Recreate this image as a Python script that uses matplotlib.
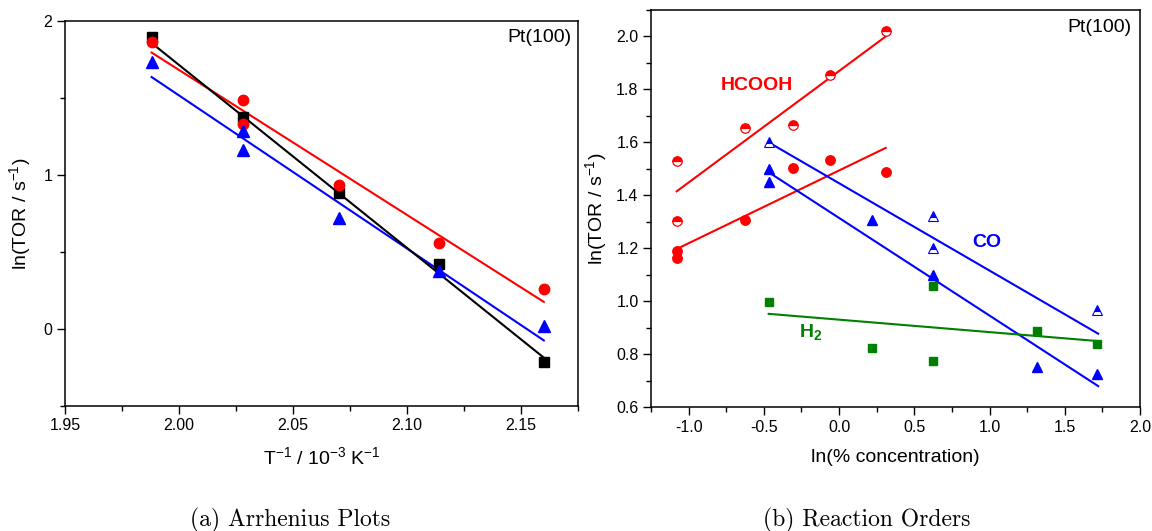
import matplotlib

matplotlib.use("Agg")
import matplotlib.pyplot as plt
from matplotlib.ticker import MultipleLocator

plt.rcParams["font.family"] = ["Liberation Sans", "DejaVu Sans"]
plt.rcParams["mathtext.fontset"] = "custom"
plt.rcParams["mathtext.rm"] = "Liberation Sans"
plt.rcParams["mathtext.it"] = "Liberation Sans:italic"
plt.rcParams["mathtext.bf"] = "Liberation Sans:bold"
plt.rcParams["axes.unicode_minus"] = False

RED = "#ff0000"
BLUE = "#0000ff"
GREEN = "#008000"

# (a) Arrhenius data: T^-1 in 10^-3 K^-1, ln(TOR)
arr_x_black = [1.988, 2.028, 2.070, 2.114, 2.160]
arr_y_black = [1.896, 1.377, 0.883, 0.420, -0.212]
arr_x_red = [1.988, 2.028, 2.028, 2.070, 2.114, 2.160]
arr_y_red = [1.862, 1.490, 1.329, 0.933, 0.559, 0.260]
arr_x_blue = [1.988, 2.028, 2.028, 2.070, 2.114, 2.160]
arr_y_blue = [1.734, 1.286, 1.160, 0.723, 0.377, 0.017]

# fitted lines (end points)
fit_x_arr = [1.988, 2.160]
fit_black = [1.857, -0.186]
fit_red = [1.795, 0.176]
fit_blue = [1.636, -0.074]

# (b) reaction orders: ln(% concentration), ln(TOR)
hcooh_x = [-1.079, -1.079, -0.626, -0.305, -0.059, 0.310]
hcooh_half_y = [1.528, 1.304, 1.653, 1.665, 1.853, 2.021]
hcooh_solid_y = [1.189, 1.162, 1.307, 1.502, 1.533, 1.487]
hcooh_fit_x = [-1.079, 0.310]
hcooh_half_fit = [1.415, 2.000]
hcooh_solid_fit = [1.197, 1.579]

co_open_x = [-0.468, 0.626, 0.626, 1.717]
co_open_y = [1.603, 1.323, 1.201, 0.967]
co_solid_x = [-0.468, -0.468, 0.222, 0.626, 1.315, 1.717]
co_solid_y = [1.499, 1.449, 1.307, 1.097, 0.751, 0.723]
co_fit_x = [-0.468, 1.722]
co_open_fit = [1.600, 0.877]
co_solid_fit = [1.487, 0.679]

h2_x = [-0.468, 0.222, 0.626, 0.626, 1.315, 1.717]
h2_y = [0.995, 0.824, 1.059, 0.772, 0.889, 0.839]
h2_fit_x = [-0.468, 1.722]
h2_fit = [0.952, 0.849]

W, H = 1152, 531
fig = plt.figure(figsize=(W / 100, H / 100), dpi=100)


def px_axes(left, right, top, bottom):
    return fig.add_axes([left / W, (H - bottom) / H, (right - left) / W, (bottom - top) / H])


def style(ax):
    for s in ax.spines.values():
        s.set_linewidth(1.1)
    ax.tick_params(which="both", direction="out", top=False, right=False,
                   labelsize=11.5, width=1.0)
    ax.tick_params(which="major", length=5.5)
    ax.tick_params(which="minor", length=3.5)


ax1 = px_axes(65, 578, 21, 406)
ax2 = px_axes(651, 1140, 10, 407)

# --- (a) Arrhenius plots
ax1.plot(fit_x_arr, fit_red, color=RED, lw=1.5)
ax1.plot(fit_x_arr, fit_blue, color=BLUE, lw=1.5)
ax1.plot(fit_x_arr, fit_black, color="black", lw=1.5)
ax1.plot(arr_x_black, arr_y_black, "s", color="black", ms=6.5)
ax1.plot(arr_x_red, arr_y_red, "o", color=RED, ms=7.5)
ax1.plot(arr_x_blue, arr_y_blue, "^", color=BLUE, ms=8)

ax1.set_xlim(1.95, 2.175)
ax1.set_ylim(-0.5, 2.0)
ax1.xaxis.set_major_locator(MultipleLocator(0.05))
ax1.xaxis.set_minor_locator(MultipleLocator(0.025))
ax1.yaxis.set_major_locator(MultipleLocator(1))
ax1.yaxis.set_minor_locator(MultipleLocator(0.5))
style(ax1)
ax1.set_xlabel(r"T$^{-1}$ / 10$^{-3}$ K$^{-1}$", fontsize=14)
ax1.set_ylabel(r"ln(TOR / s$^{-1}$)", fontsize=14)
ax1.xaxis.set_label_coords(0.5, -0.132)
ax1.xaxis.label.set_va("center")
ax1.yaxis.set_label_coords(-0.088, 0.5)
ax1.yaxis.label.set_va("center")
ax1.text(0.988, 0.958, "Pt(100)", transform=ax1.transAxes, ha="right", va="center",
         fontsize=14)

# --- (b) reaction orders
ax2.plot(hcooh_fit_x, hcooh_half_fit, color=RED, lw=1.5)
ax2.plot(hcooh_fit_x, hcooh_solid_fit, color=RED, lw=1.5)
ax2.plot(co_fit_x, co_open_fit, color=BLUE, lw=1.5)
ax2.plot(co_fit_x, co_solid_fit, color=BLUE, lw=1.5)
ax2.plot(h2_fit_x, h2_fit, color=GREEN, lw=1.5)

ax2.plot(hcooh_x, hcooh_half_y, "o", color=RED, ms=6.8, fillstyle="top",
         markerfacecoloralt="white", mew=0.9)
ax2.plot(hcooh_x, hcooh_solid_y, "o", color=RED, ms=6.8)
ax2.plot(co_open_x, co_open_y, "^", color=BLUE, ms=7.2, fillstyle="top",
         markerfacecoloralt="white", mew=0.8)
ax2.plot(co_solid_x, co_solid_y, "^", color=BLUE, ms=7.2)
ax2.plot(h2_x, h2_y, "s", color=GREEN, ms=5.8)

ax2.text(-0.546, 1.814, "HCOOH", color=RED, fontsize=14, fontweight="bold",
         ha="center", va="center")
ax2.text(0.983, 1.22, "CO", color=BLUE, fontsize=14, fontweight="bold",
         ha="center", va="center")
ax2.text(-0.192, 0.883, r"H$_{\mathbf{2}}$", color=GREEN, fontsize=14,
         fontweight="bold", ha="center", va="center")

ax2.set_xlim(-1.25, 2.0)
ax2.set_ylim(0.6, 2.1)
ax2.xaxis.set_major_locator(MultipleLocator(0.5))
ax2.xaxis.set_minor_locator(MultipleLocator(0.25))
ax2.yaxis.set_major_locator(MultipleLocator(0.2))
ax2.yaxis.set_minor_locator(MultipleLocator(0.1))
style(ax2)
ax2.set_xlabel("ln(% concentration)", fontsize=14)
ax2.set_ylabel(r"ln(TOR / s$^{-1}$)", fontsize=14)
ax2.xaxis.set_label_coords(0.5, -0.126)
ax2.xaxis.label.set_va("center")
ax2.yaxis.set_label_coords(-0.112, 0.5)
ax2.yaxis.label.set_va("center")
ax2.text(0.982, 0.957, "Pt(100)", transform=ax2.transAxes, ha="right", va="center",
         fontsize=14)

# sub-figure captions
fig.text(290 / W, 1 - 520 / H, "(a) Arrhenius Plots", family="cmr10", fontsize=17,
         ha="center", va="center")
fig.text(867 / W, 1 - 520 / H, "(b) Reaction Orders", family="cmr10", fontsize=17,
         ha="center", va="center")

fig.savefig("out.png", dpi=100)
